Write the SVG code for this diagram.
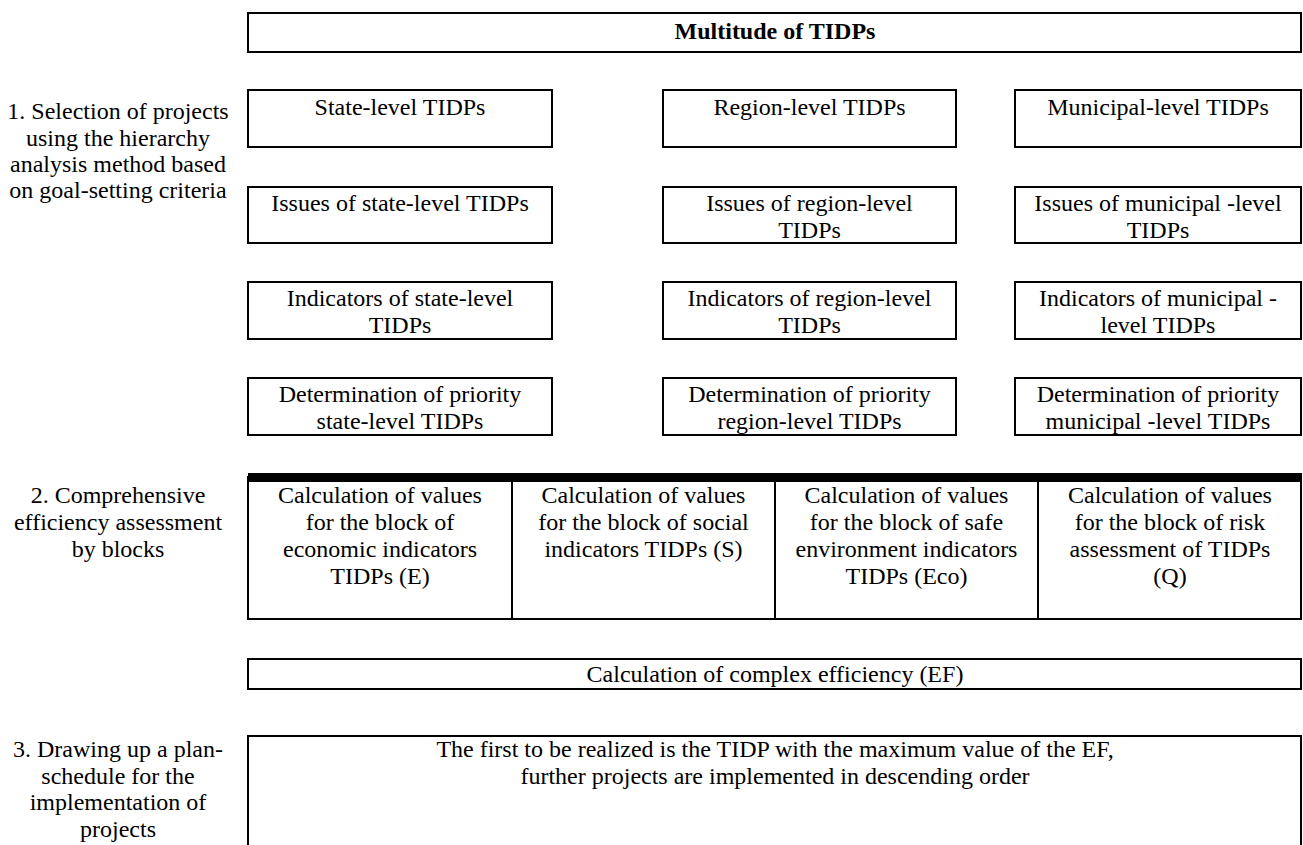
<svg xmlns="http://www.w3.org/2000/svg" width="1303" height="845" viewBox="0 0 1303 845">
<style>
.box{fill:#fff;stroke:#000;stroke-width:2}
.t{font-family:"Liberation Serif","Times New Roman",serif;font-size:24px;fill:#000;text-anchor:middle}
.b{font-weight:bold}
.div{stroke:#000;stroke-width:2}
</style>
<rect width="1303" height="845" fill="#fff"/>
<g id="connectors"/>
<g id="top">
<rect class="box" x="248" y="13" width="1053" height="39"/>
<text class="t b" x="775" y="39">Multitude of TIDPs</text>
</g>
<g id="label1">
<text class="t" x="118" y="119">1. Selection of projects</text>
<text class="t" x="118" y="146">using the hierarchy</text>
<text class="t" x="118" y="172">analysis method based</text>
<text class="t" x="118" y="198">on goal-setting criteria</text>
</g>
<g id="state-level">
<rect class="box" x="248" y="90" width="304" height="57"/>
<text class="t" x="400" y="115">State-level TIDPs</text>
</g>
<g id="region-level">
<rect class="box" x="663" y="90" width="293" height="57"/>
<text class="t" x="809.5" y="115">Region-level TIDPs</text>
</g>
<g id="municipal-level">
<rect class="box" x="1015" y="90" width="286" height="57"/>
<text class="t" x="1158" y="115">Municipal-level TIDPs</text>
</g>
<g id="issues-state">
<rect class="box" x="248" y="187" width="304" height="56"/>
<text class="t" x="400" y="211">Issues of state-level TIDPs</text>
</g>
<g id="issues-region">
<rect class="box" x="663" y="187" width="293" height="56"/>
<text class="t" x="809.5" y="211">Issues of region-level</text>
<text class="t" x="809.5" y="238">TIDPs</text>
</g>
<g id="issues-municipal">
<rect class="box" x="1015" y="187" width="286" height="56"/>
<text class="t" x="1158" y="211">Issues of municipal -level</text>
<text class="t" x="1158" y="238">TIDPs</text>
</g>
<g id="indicators-state">
<rect class="box" x="248" y="282" width="304" height="57"/>
<text class="t" x="400" y="306">Indicators of state-level</text>
<text class="t" x="400" y="333">TIDPs</text>
</g>
<g id="indicators-region">
<rect class="box" x="663" y="282" width="293" height="57"/>
<text class="t" x="809.5" y="306">Indicators of region-level</text>
<text class="t" x="809.5" y="333">TIDPs</text>
</g>
<g id="indicators-municipal">
<rect class="box" x="1015" y="282" width="286" height="57"/>
<text class="t" x="1158" y="306">Indicators of municipal -</text>
<text class="t" x="1158" y="333">level TIDPs</text>
</g>
<g id="priority-state">
<rect class="box" x="248" y="378" width="304" height="57"/>
<text class="t" x="400" y="402">Determination of priority</text>
<text class="t" x="400" y="429">state-level TIDPs</text>
</g>
<g id="priority-region">
<rect class="box" x="663" y="378" width="293" height="57"/>
<text class="t" x="809.5" y="402">Determination of priority</text>
<text class="t" x="809.5" y="429">region-level TIDPs</text>
</g>
<g id="priority-municipal">
<rect class="box" x="1015" y="378" width="286" height="57"/>
<text class="t" x="1158" y="402">Determination of priority</text>
<text class="t" x="1158" y="429">municipal -level TIDPs</text>
</g>
<g id="label2">
<text class="t" x="118" y="503">2. Comprehensive</text>
<text class="t" x="118" y="530">efficiency assessment</text>
<text class="t" x="118" y="557">by blocks</text>
</g>
<g id="blocks">
<rect class="box" x="248" y="477" width="1053" height="142"/>
<rect x="248" y="473" width="1054" height="9" fill="#000"/>
<line class="div" x1="512" y1="477" x2="512" y2="619"/>
<line class="div" x1="775" y1="477" x2="775" y2="619"/>
<line class="div" x1="1038" y1="477" x2="1038" y2="619"/>
</g>
<g id="block-E">
<text class="t" x="380" y="503">Calculation of values</text>
<text class="t" x="380" y="530">for the block of</text>
<text class="t" x="380" y="557">economic indicators</text>
<text class="t" x="380" y="584">TIDPs (E)</text>
</g>
<g id="block-S">
<text class="t" x="643.5" y="503">Calculation of values</text>
<text class="t" x="643.5" y="530">for the block of social</text>
<text class="t" x="643.5" y="557">indicators TIDPs (S)</text>
</g>
<g id="block-Eco">
<text class="t" x="906.5" y="503">Calculation of values</text>
<text class="t" x="906.5" y="530">for the block of safe</text>
<text class="t" x="906.5" y="557">environment indicators</text>
<text class="t" x="906.5" y="584">TIDPs (Eco)</text>
</g>
<g id="block-Q">
<text class="t" x="1170" y="503">Calculation of values</text>
<text class="t" x="1170" y="530">for the block of risk</text>
<text class="t" x="1170" y="557">assessment of TIDPs</text>
<text class="t" x="1170" y="584">(Q)</text>
</g>
<g id="ef">
<rect class="box" x="248" y="659" width="1053" height="30"/>
<text class="t" x="775" y="682">Calculation of complex efficiency (EF)</text>
</g>
<g id="label3">
<text class="t" x="118" y="757">3. Drawing up a plan-</text>
<text class="t" x="118" y="784">schedule for the</text>
<text class="t" x="118" y="810">implementation of</text>
<text class="t" x="118" y="837">projects</text>
</g>
<g id="plan">
<rect class="box" x="248" y="736" width="1053" height="130"/>
<text class="t" x="775" y="757">The first to be realized is the TIDP with the maximum value of the EF,</text>
<text class="t" x="775" y="784">further projects are implemented in descending order</text>
</g>
</svg>
